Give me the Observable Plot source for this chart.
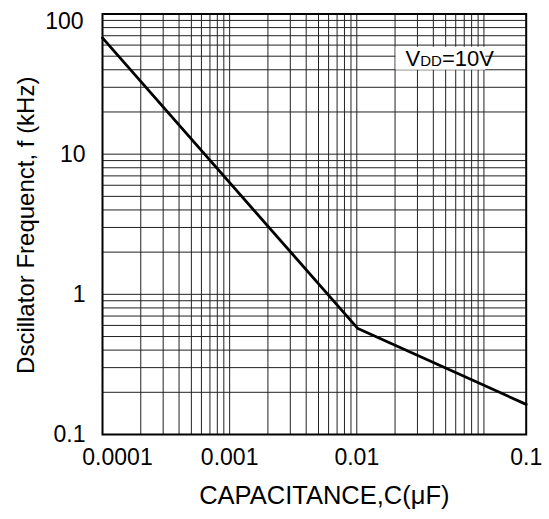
<!DOCTYPE html>
<html><head><meta charset="utf-8">
<script src="https://cdn.jsdelivr.net/npm/d3@7"></script>
<script src="https://cdn.jsdelivr.net/npm/@observablehq/plot@0.6"></script>
<style>body{margin:0;background:#fff} svg{display:block}</style>
</head><body>
<div id="chart"></div>
<script>
// Curve (x in the grid's own log scale)
const capacitance = [0.0001, 0.0102, 0.215];
const frequency = [67.5, 0.57, 0.164];
// Tick labels
const xTickValues = [0.0001, 0.001, 0.01, 0.215];
const xTickLabels = ["0.0001", "0.001", "0.01", "0.1"];
const yTickValues = [0.1, 1, 10, 100];
const yTickLabels = ["0.1", "1", "10", "100"];
// Grid decades
const decadesX = [0.0001, 0.001, 0.01];
const decadesY = [0.1, 1, 10];
const multiples = [1, 2, 3, 4, 5, 6, 7, 8, 9];
const xTitle = "CAPACITANCE,C(\u03bcF)";
const yTitle = "Dscillator Frequenct, f (kHz)";
const annotation = [{x: 0.0242, y: 48, text: "VDD=10V"}];

const xGrid = decadesX.flatMap(d => multiples.map(m => d * m)).concat([0.1]);
const yGrid = decadesY.flatMap(d => multiples.map(m => d * m)).concat([100]);
const curve = capacitance.map((c, i) => ({c, f: frequency[i]}));
const xTicks = xTickValues.map((v, i) => ({v, label: xTickLabels[i]}));
const yTicks = yTickValues.map((v, i) => ({v, label: yTickLabels[i]}));

const font = "'Liberation Sans', Arial, Helvetica, sans-serif";
const plot = Plot.plot({
  width: 549, height: 519,
  marginLeft: 102, marginTop: 13.5, marginRight: 23.3, marginBottom: 85,
  style: {fontFamily: font, fontSize: "23px", color: "#000", background: "#fff", overflow: "visible"},
  x: {type: "log", domain: [0.0001, 0.215], axis: null},
  y: {type: "log", domain: [0.1, 100], axis: null},
  marks: [
    Plot.ruleX(xGrid, {stroke: "#222", strokeWidth: 1}),
    Plot.ruleY(yGrid, {stroke: "#222", strokeWidth: 1}),
    Plot.line(curve, {x: "c", y: "f", stroke: "#000", strokeWidth: 2.8}),
    Plot.text(annotation, {x: "x", y: "y", text: "text", textAnchor: "start", lineAnchor: "middle", fontSize: 22, fill: "#000"}),
    Plot.frame({stroke: "#000", strokeWidth: 2}),
    Plot.text(xTicks.slice(1), {x: "v", text: "label", frameAnchor: "bottom", lineAnchor: "middle", textAnchor: "middle", dy: 23, fontSize: 23, fill: "#000"}),
    Plot.text(xTicks.slice(0, 1), {x: "v", text: "label", frameAnchor: "bottom", lineAnchor: "middle", textAnchor: "middle", dy: 23, dx: 15, fontSize: 23, fill: "#000"}),
    Plot.text(yTicks.slice(0, 3), {y: "v", text: "label", frameAnchor: "left", lineAnchor: "middle", textAnchor: "end", dx: -17, fontSize: 23, fill: "#000"}),
    Plot.text(yTicks.slice(3), {y: "v", text: "label", frameAnchor: "left", lineAnchor: "middle", textAnchor: "end", dx: -19, dy: 8, fontSize: 23, fill: "#000"}),
    Plot.text([xTitle], {frameAnchor: "bottom", dy: 61, dx: 10, lineAnchor: "middle", textAnchor: "middle", fontSize: 25.5, fill: "#000"}),
    Plot.text([yTitle], {frameAnchor: "left", rotate: -90, dx: -76, dy: 1, lineAnchor: "middle", textAnchor: "middle", fontSize: 24, fill: "#000"})
  ]
});
document.getElementById("chart").append(plot);

// Smaller "DD" and white box behind the annotation
const ann = Array.from(plot.querySelectorAll("text")).find(t => t.textContent === "VDD=10V");
if (ann) {
  ann.textContent = "";
  const parts = [["V", null], ["DD", 15], ["=10V", null]];
  for (const [s, fs] of parts) {
    const ts = document.createElementNS("http://www.w3.org/2000/svg", "tspan");
    ts.textContent = s;
    if (fs) ts.setAttribute("font-size", fs);
    ann.appendChild(ts);
  }
  const bb = ann.getBBox();
  const g = ann.parentNode;
  const rect = document.createElementNS("http://www.w3.org/2000/svg", "rect");
  rect.setAttribute("x", bb.x - 10);
  rect.setAttribute("y", bb.y + 1);
  rect.setAttribute("width", bb.width + 1);
  rect.setAttribute("height", bb.height - 2);
  rect.setAttribute("fill", "#fff");
  const ctm = ann.getAttribute("transform");
  if (ctm) rect.setAttribute("transform", ctm);
  g.insertBefore(rect, ann);
}
</script>
</body></html>
